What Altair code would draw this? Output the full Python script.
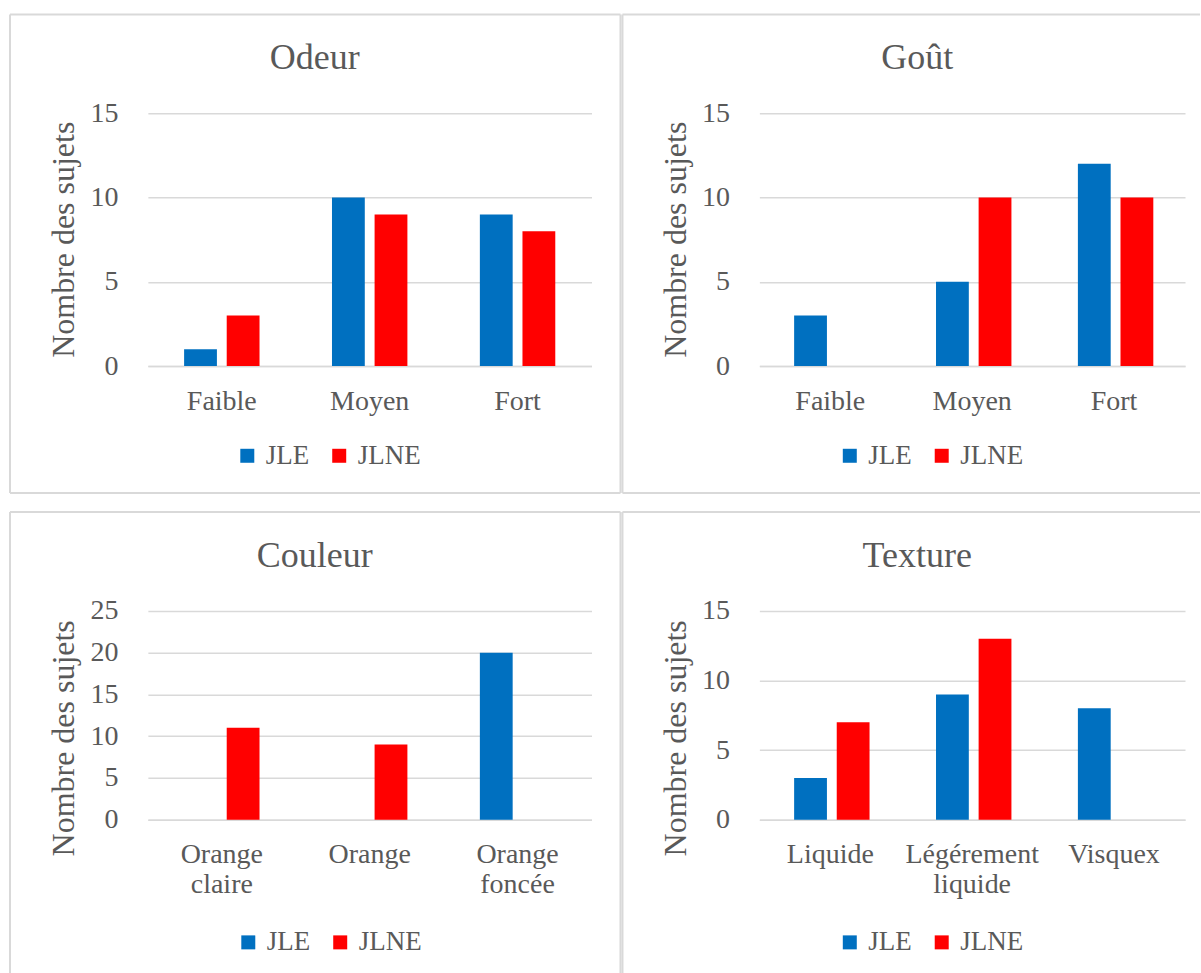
import altair as alt
import pandas as pd

SERIES = ["JLE", "JLNE"]
COLORS = ["#0070c0", "#ff0000"]

odeur_cats = ["Faible", "Moyen", "Fort"]
odeur_jle = [1, 10, 9]
odeur_jlne = [3, 9, 8]

gout_cats = ["Faible", "Moyen", "Fort"]
gout_jle = [3, 5, 12]
gout_jlne = [0, 10, 10]

couleur_cats = ["Orange claire", "Orange", "Orange foncée"]
couleur_jle = [0, 0, 20]
couleur_jlne = [11, 9, 0]

texture_cats = ["Liquide", "Légérement liquide", "Visquex"]
texture_jle = [3, 9, 8]
texture_jlne = [7, 13, 0]

FONT = "Liberation Serif, Times New Roman, serif"
TEXT = "#595959"
GRID = "#d9d9d9"


def frame_line(x, x2, y, y2):
    # one side of the light grey frame around a panel, in pixels from the plot origin
    return alt.Chart(alt.Data(values=[{"k": 1}])).mark_rule(
        stroke=GRID, strokeWidth=2
    ).encode(x=alt.value(x), x2=alt.value(x2), y=alt.value(y), y2=alt.value(y2))


def panel(title, cats, jle, jlne, ymax, width, height, frame, right_side,
          legend_x, legend_y, title_y):
    rows = []
    for c, a, b in zip(cats, jle, jlne):
        rows.append({"cat": c, "serie": "JLE", "value": a})
        rows.append({"cat": c, "serie": "JLNE", "value": b})
    df = pd.DataFrame(rows)

    bars = alt.Chart(df).mark_bar().encode(
        x=alt.X(
            "cat:N",
            sort=cats,
            scale=alt.Scale(paddingInner=0.49, paddingOuter=0.245),
            axis=alt.Axis(
                title=None,
                labelAngle=0,
                labelExpr="split(datum.label, ' ')",
                labelLineHeight=30,
                labelPadding=21,
                ticks=False,
                domain=True,
                domainColor=GRID,
                domainWidth=1.5,
                grid=False,
            ),
        ),
        xOffset=alt.XOffset("serie:N", sort=SERIES, scale=alt.Scale(paddingInner=0.23)),
        y=alt.Y(
            "value:Q",
            scale=alt.Scale(domain=[0, ymax], nice=False),
            axis=alt.Axis(
                title="Nombre des sujets",
                values=list(range(0, ymax + 1, 5)),
                domain=False,
                ticks=False,
                labelPadding=30,
                grid=True,
                gridColor=GRID,
                gridWidth=1.5,
                titleX=-84,
                titleY=title_y,
                titleAlign="center",
                titleBaseline="middle",
            ),
        ),
        color=alt.Color(
            "serie:N",
            sort=SERIES,
            scale=alt.Scale(domain=SERIES, range=COLORS),
            legend=alt.Legend(
                title=None,
                orient="none",
                direction="horizontal",
                legendX=legend_x,
                legendY=legend_y,
            ),
        ),
    )

    x0, x1, y0, y1 = frame
    lines = [
        frame_line(x0, x1, y0, y0),
        frame_line(x0, x1, y1, y1),
        frame_line(x0, x0, y0, y1),
    ]
    if right_side:
        lines.append(frame_line(x1, x1, y0, y1))

    return alt.layer(*lines, bars).properties(
        width=width, height=height, title=alt.Title(title)
    )


odeur = panel("Odeur", odeur_cats, odeur_jle, odeur_jlne, 15, 444, 253,
              (-138, 473, -99, 380), True, 86, 329, 126)
gout = panel("Goût", gout_cats, gout_jle, gout_jlne, 15, 426, 253,
             (-137, 441, -99, 380), False, 77, 329, 126)
couleur = panel("Couleur", couleur_cats, couleur_jle, couleur_jlne, 25, 444, 209,
                (-138, 473, -99, 364), True, 87, 318, 127)
texture = panel("Texture", texture_cats, texture_jle, texture_jlne, 15, 426, 209,
                (-137, 441, -99, 364), False, 77, 318, 127)

chart = (
    alt.concat(
        odeur, gout, couleur, texture,
        columns=2,
        spacing={"row": 245, "column": 168},
        bounds="flush",
        align="each",
    )
    .resolve_scale(color="independent")
    .properties(
        padding={"left": 9, "top": 13, "right": 0, "bottom": 0},
        autosize=alt.AutoSizeParams(type="pad"),
        background="white",
    )
    .configure_view(stroke=None)
    .configure_axis(
        labelFont=FONT,
        labelFontSize=28,
        labelColor=TEXT,
        titleFont=FONT,
        titleFontSize=32,
        titleColor=TEXT,
        titleFontWeight="normal",
    )
    .configure_title(
        font=FONT,
        fontSize=36,
        color=TEXT,
        fontWeight="normal",
        anchor="middle",
        dx=-55,
        offset=-64,
    )
    .configure_legend(
        labelFont=FONT,
        labelFontSize=27,
        labelColor=TEXT,
        symbolType="square",
        symbolSize=196,
        symbolStrokeWidth=0,
        columnPadding=16,
        labelOffset=5,
    )
)

chart.save("out.html", embed_options={"renderer": "svg", "actions": False})
